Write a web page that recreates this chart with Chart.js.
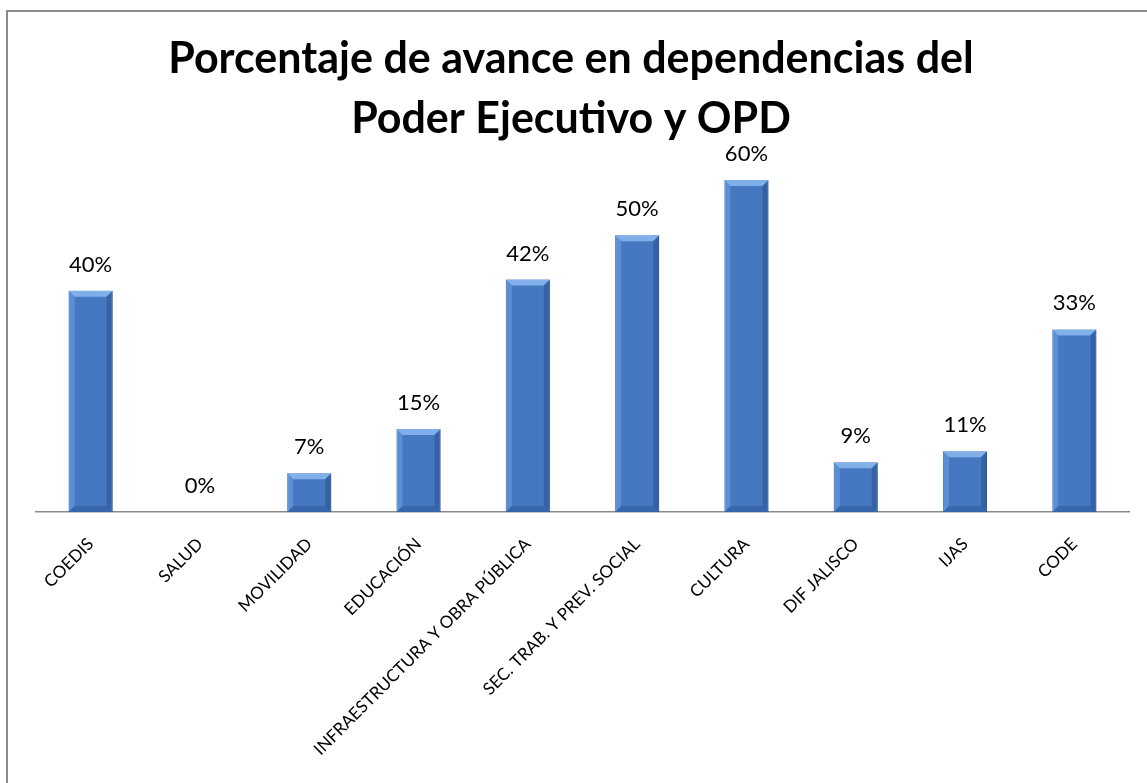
<!DOCTYPE html>
<html>
<head>
<meta charset="utf-8">
<script src="https://cdn.jsdelivr.net/npm/chart.js@4.4.1/dist/chart.umd.min.js"></script>
<style>
  html, body { margin: 0; padding: 0; background: #ffffff; overflow: hidden; }
  #wrap { position: relative; width: 1147px; height: 783px; }
  #frame { position: absolute; left: 6px; top: 10px; width: 1200px; height: 900px;
           border-left: 2px solid #8a8a8a; border-top: 2px solid #8a8a8a; box-sizing: border-box; }
  #c { position: absolute; left: 0; top: 0; }
</style>
</head>
<body>
<div id="wrap">
  <div id="frame"></div>
  <canvas id="c" width="1147" height="783"></canvas>
</div>
<script>
const titleLines = ["Porcentaje de avance en dependencias del", "Poder Ejecutivo y OPD"];
const categories = ["COEDIS", "SALUD", "MOVILIDAD", "EDUCACIÓN", "INFRAESTRUCTURA Y OBRA PÚBLICA",
  "SEC. TRAB. Y PREV. SOCIAL", "CULTURA", "DIF JALISCO", "IJAS", "CODE"];
const avance = [40, 0, 7, 15, 42, 50, 60, 9, 11, 33];
const yMin = 0;
const yMax = 65.6;

const valueLabels = {
  id: 'valueLabels',
  afterDatasetsDraw(chart) {
    const ctx = chart.ctx;
    const meta = chart.getDatasetMeta(0);
    ctx.save();
    // bevel decoration
    meta.data.forEach((el) => {
      const w = el.width, l = el.x - w / 2, r = el.x + w / 2, t = el.y, b = el.base;
      const h = b - t;
      if (h < 2) return;
      const bv = Math.min(6, h / 2);
      ctx.fillStyle = 'rgba(140,185,240,0.85)';
      ctx.beginPath(); ctx.moveTo(l, t); ctx.lineTo(r, t); ctx.lineTo(r - bv, t + bv); ctx.lineTo(l + bv, t + bv); ctx.closePath(); ctx.fill();
      ctx.fillStyle = 'rgba(110,160,225,0.55)';
      ctx.beginPath(); ctx.moveTo(l, t); ctx.lineTo(l + bv, t + bv); ctx.lineTo(l + bv, b - bv); ctx.lineTo(l, b); ctx.closePath(); ctx.fill();
      ctx.fillStyle = 'rgba(30,70,130,0.45)';
      ctx.beginPath(); ctx.moveTo(r, t); ctx.lineTo(r - bv, t + bv); ctx.lineTo(r - bv, b - bv); ctx.lineTo(r, b); ctx.closePath(); ctx.fill();
      ctx.fillStyle = 'rgba(30,70,130,0.35)';
      ctx.beginPath(); ctx.moveTo(l, b); ctx.lineTo(l + bv, b - bv); ctx.lineTo(r - bv, b - bv); ctx.lineTo(r, b); ctx.closePath(); ctx.fill();
    });
    ctx.fillStyle = '#000000';
    ctx.font = '22px Lato, "Open Sans", sans-serif';
    ctx.textAlign = 'center';
    ctx.textBaseline = 'alphabetic';
    meta.data.forEach((el, i) => {
      ctx.fillText(avance[i] + '%', el.x, el.y - 19);
    });
    ctx.restore();
  }
};

new Chart(document.getElementById('c'), {
  type: 'bar',
  data: {
    labels: categories,
    datasets: [{
      data: avance,
      backgroundColor: '#4678c2',
      borderColor: '#2f5e9e',
      borderWidth: 1,
      barPercentage: 0.403,
      categoryPercentage: 1.0
    }]
  },
  options: {
    responsive: false,
    animation: false,
    layout: { padding: { left: 0, right: 5, top: 0, bottom: 0 } },
    plugins: {
      legend: { display: false },
      tooltip: { enabled: false },
      title: {
        display: true,
        text: titleLines,
        color: '#000000',
        font: { family: 'Lato, "Open Sans", sans-serif', size: 43, weight: 'bold', lineHeight: 1.395 },
        padding: { top: 29, bottom: 0 }
      }
    },
    scales: {
      x: {
        grid: { display: false, drawTicks: false },
        border: { display: true, color: '#8a8a8a', width: 1.5 },
        ticks: {
          color: '#000000',
          font: { family: 'Lato, "Open Sans", sans-serif', size: 17 },
          maxRotation: 45, minRotation: 45,
          autoSkip: false,
          padding: 22
        },
        afterFit(scale) { scale.height = 271; }
      },
      y: {
        display: true,
        position: 'left',
        min: yMin,
        max: yMax,
        grid: { display: false, drawTicks: false },
        border: { display: false },
        ticks: { display: false },
        afterFit(scale) { scale.width = 36; }
      },
      yRight: {
        display: true,
        position: 'right',
        min: yMin,
        max: yMax,
        grid: { display: false, drawTicks: false },
        border: { display: false },
        ticks: { display: false },
        afterFit(scale) { scale.width = 13; }
      }
    }
  },
  plugins: [valueLabels]
});
</script>
</body>
</html>
